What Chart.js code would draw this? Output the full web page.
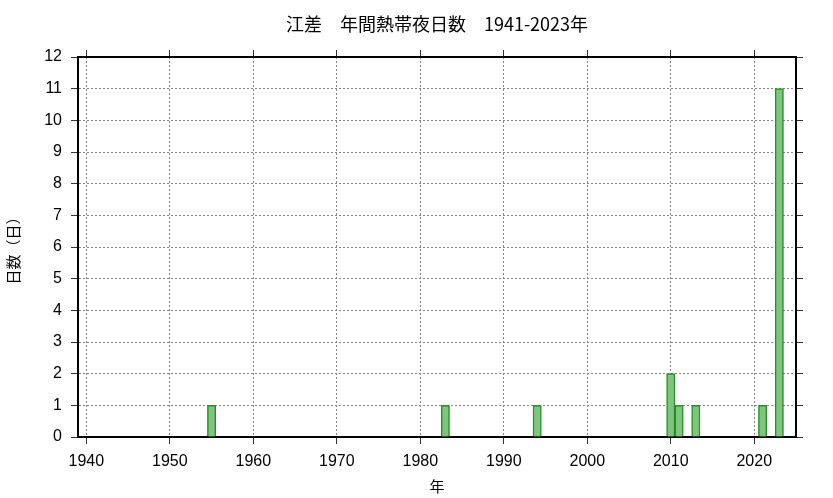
<!DOCTYPE html>
<html>
<head>
<meta charset="utf-8">
<script src="https://cdn.jsdelivr.net/npm/chart.js@4/dist/chart.umd.min.js"></script>
<style>
  html, body { margin: 0; padding: 0; background: #fff; }
  #wrap { width: 833px; height: 498px; }
</style>
</head>
<body>
<div id="wrap"><canvas id="nightsChart" width="833" height="498"></canvas></div>
<script>
const chartTitle = '江差\u3000年間熱帯夜日数\u30001941-2023年';
const years = [1955, 1983, 1994, 2010, 2011, 2013, 2021, 2023];
const days = [1, 1, 1, 2, 1, 1, 1, 11];
const xTicks = [1940, 1950, 1960, 1970, 1980, 1990, 2000, 2010, 2020];
const xMin = 1939, xMax = 2025;
const yMin = 0, yMax = 12;

const tickFont = { family: '"Liberation Sans", Arial, sans-serif', size: 16 };
const cjkFont = '"Noto Sans CJK JP", "Noto Sans CJK SC", sans-serif';

const setXTicks = (scale) => { scale.ticks = xTicks.map(v => ({ value: v })); };

// title drawn over the middle of the plot area
const titlePlugin = {
    id: 'plotTitle',
    afterDraw(chart) {
        const { ctx, chartArea } = chart;
        ctx.save();
        ctx.font = '18px ' + cjkFont;
        ctx.fillStyle = '#000';
        ctx.textAlign = 'center';
        ctx.textBaseline = 'middle';
        ctx.fillText(chartTitle, (chartArea.left + chartArea.right) / 2, 24);
        ctx.restore();
    }
};

const gridBase = {
    color: '#888',
    lineWidth: 1,
    offset: false,
    tickLength: 7,
    tickColor: '#333',
    tickWidth: 1
};
const borderBase = { color: '#000', width: 2, dash: [2, 2] };

new Chart(document.getElementById('nightsChart'), {
    type: 'bar',
    data: {
        datasets: [{
            data: years.map((y, i) => ({ x: y, y: days[i] })),
            backgroundColor: '#80c480',
            borderColor: '#1f961f',
            borderWidth: 1.5,
            barPercentage: 1,
            categoryPercentage: 1,
            xAxisID: 'x',
            yAxisID: 'y'
        }]
    },
    plugins: [titlePlugin],
    options: {
        responsive: false,
        animation: false,
        layout: { padding: 0 },
        plugins: { legend: { display: false }, tooltip: { enabled: false }, title: { display: false } },
        scales: {
            x: {
                type: 'linear',
                position: 'bottom',
                min: xMin, max: xMax,
                offset: false,
                afterBuildTicks: setXTicks,
                afterFit: (s) => { s.height = 61; },
                ticks: { font: tickFont, color: '#000', padding: 8, maxRotation: 0, callback: (v) => String(v) },
                grid: gridBase,
                border: borderBase,
                title: { display: true, text: '年', font: { family: cjkFont, size: 15 }, color: '#000', padding: { top: 0, bottom: 3 } }
            },
            x2: {
                type: 'linear',
                position: 'top',
                min: xMin, max: xMax,
                offset: false,
                afterBuildTicks: setXTicks,
                afterFit: (s) => { s.height = 57; },
                ticks: { display: false },
                grid: Object.assign({}, gridBase, { drawOnChartArea: false }),
                border: { color: '#000', width: 2 }
            },
            y: {
                type: 'linear',
                position: 'left',
                min: yMin, max: yMax,
                afterFit: (s) => { s.width = 78; },
                ticks: { stepSize: 1, font: tickFont, color: '#000', padding: 9 },
                grid: gridBase,
                border: borderBase,
                title: { display: true, text: '日数（日）', font: { family: cjkFont, size: 15 }, color: '#000', padding: { top: 4, bottom: 0 } }
            },
            y2: {
                type: 'linear',
                position: 'right',
                min: yMin, max: yMax,
                afterFit: (s) => { s.width = 37; },
                ticks: { stepSize: 1, display: false },
                grid: Object.assign({}, gridBase, { drawOnChartArea: false }),
                border: { color: '#000', width: 2 }
            }
        }
    }
});
</script>
</body>
</html>
